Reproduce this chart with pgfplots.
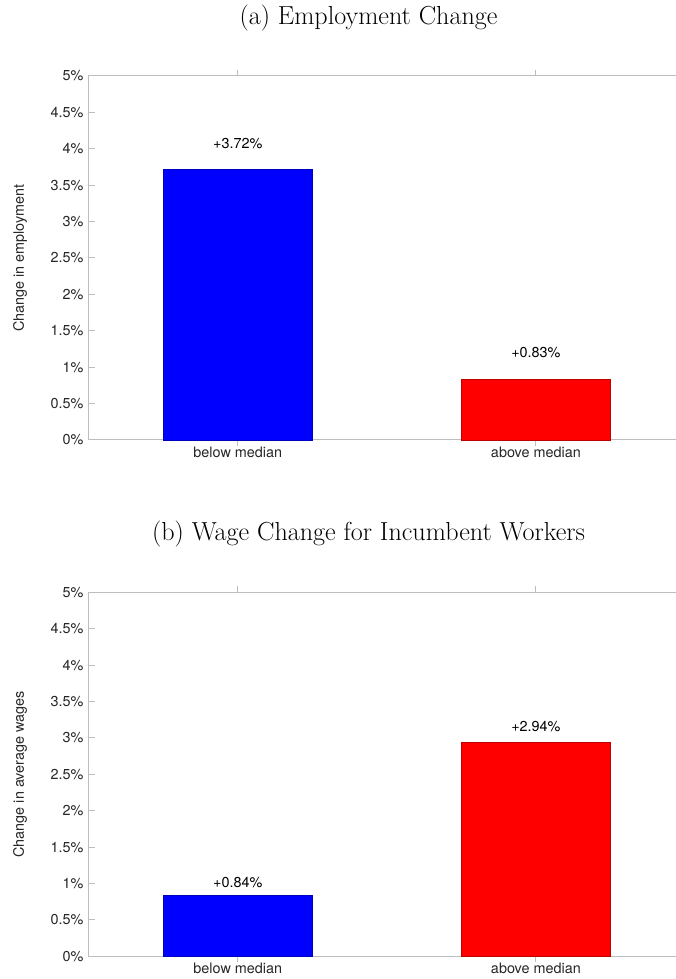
\documentclass[border=0pt]{standalone}
\usepackage{fontspec}
\setmainfont{TeX Gyre Heros}
\newfontfamily\lmr{Latin Modern Roman}
\usepackage{pgfplots}
\pgfplotsset{compat=1.18}
\definecolor{axgray}{gray}{0.74}
\definecolor{txtgray}{gray}{0.15}
\tikzset{barlbl/.style={font=\fontsize{14.4}{17}\selectfont, text=black, anchor=center}}
\pgfplotsset{
  panel/.style={
    scale only axis,
    width=596.3pt, height=364pt,
    anchor=south west,
    xmin=0.5, xmax=2.5, ymin=0, ymax=5,
    xtick={1,2},
    xticklabels={below median,above median},
    ytick={0,0.5,1,1.5,2,2.5,3,3.5,4,4.5,5},
    yticklabels={0\%,0.5\%,1\%,1.5\%,2\%,2.5\%,3\%,3.5\%,4\%,4.5\%,5\%},
    tick align=inside,
    xtick pos=both,
    ytick pos=left,
    major tick length=6pt,
    axis line style={draw=axgray, line width=1pt},
    every tick/.style={draw=axgray, line width=1pt},
    tick label style={font=\fontsize{14.4}{17}\selectfont, text=txtgray},
    xticklabel style={yshift=2.5pt},
    yticklabel style={inner sep=5pt},
    every axis y label/.style={at={(axis description cs:0,0.5)}, xshift=-68.7pt, rotate=90, anchor=center, font=\fontsize{14.4}{17}\selectfont, text=txtgray},
    ybar, bar width=0.5, bar shift=0pt,
    clip=false,
  },
}
\begin{document}
\begin{tikzpicture}[x=1pt,y=1pt]
\useasboundingbox (0,0) rectangle (676,979);
\clip (0,0) rectangle (676,979);
\node[anchor=base, font=\lmr\fontsize{26.1}{30}\selectfont] at (368.5,954.6) {(a) Employment Change};
\node[anchor=base, font=\lmr\fontsize{26.1}{30}\selectfont] at (368.5,438.3) {(b) Wage Change for Incumbent Workers};
\begin{axis}[panel, at={(88.7pt,539pt)}, ylabel={Change in employment}]
\addplot[fill=blue, draw=blue!75!black, line width=0.5pt] coordinates {(1,3.72)};
\addplot[fill=red, draw=red!75!black, line width=0.5pt] coordinates {(2,0.83)};
\node[barlbl] at (axis cs:1,4.07) {+3.72\%};
\node[barlbl] at (axis cs:2,1.20) {+0.83\%};
\end{axis}
\begin{axis}[panel, at={(88.7pt,22.7pt)}, ylabel={Change in average wages}]
\addplot[fill=blue, draw=blue!75!black, line width=0.5pt] coordinates {(1,0.84)};
\addplot[fill=red, draw=red!75!black, line width=0.5pt] coordinates {(2,2.94)};
\node[barlbl] at (axis cs:1,1.01) {+0.84\%};
\node[barlbl] at (axis cs:2,3.15) {+2.94\%};
\end{axis}
\end{tikzpicture}
\end{document}
